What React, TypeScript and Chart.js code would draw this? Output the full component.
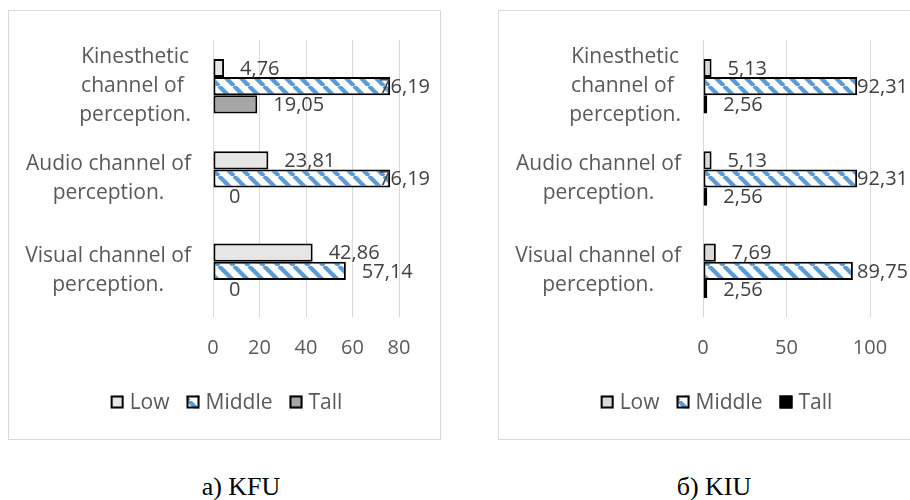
import React, { useEffect, useRef } from "react";
import { Chart, registerables } from "chart.js";

Chart.register(...registerables);

// ---- data ----
const categories: string[][] = [
  ["Kinesthetic", "channel of ", "perception."],
  ["Audio channel of", "perception."],
  ["Visual channel of", "perception."],
];
const seriesNames = ["Low", "Middle", "Tall"];

const kfuLow = [4.76, 23.81, 42.86];
const kfuMiddle = [76.19, 76.19, 57.14];
const kfuTall = [19.05, 0, 0];
const kfuAxisMax = 80;
const kfuAxisStep = 20;

const kiuLow = [5.13, 5.13, 7.69];
const kiuMiddle = [92.31, 92.31, 89.75];
const kiuTall = [2.56, 2.56, 2.56];
const kiuAxisMax = 100;
const kiuAxisStep = 50;

const captionKfu = "а) KFU";
const captionKiu = "б) KIU";

// ---- styling ----
const FONT = "'Open Sans', 'DejaVu Sans', sans-serif";
const AXIS_COLOR = "#595959";
const LABEL_COLOR = "#404040";
const GRID_COLOR = "#d9d9d9";
const BLUE = "#5b9bd5";

function makeHatch(): CanvasPattern | string {
  const s = 15;
  const c = document.createElement("canvas");
  c.width = s;
  c.height = s;
  const g = c.getContext("2d");
  if (!g) return BLUE;
  g.fillStyle = "#ffffff";
  g.fillRect(0, 0, s, s);
  g.strokeStyle = BLUE;
  g.lineWidth = 4.2;
  for (const o of [-s, 0, s]) {
    g.beginPath();
    g.moveTo(o, 0);
    g.lineTo(o + s, s);
    g.stroke();
  }
  const p = g.createPattern(c, "repeat");
  return p || BLUE;
}

function fmt(v: number): string {
  return String(v).replace(".", ",");
}

type Props = {
  low: number[];
  middle: number[];
  tall: number[];
  lowColor: string;
  tallColor: string;
  axisMax: number;
  axisStep: number;
  areaRight: number;
  clampRight: number;
};

const W = 431;
const H = 428;
const AREA_LEFT = 204;
const AREA_TOP = 29;
const AREA_BOTTOM = 306;

function BarPanel(props: Props) {
  const ref = useRef<HTMLCanvasElement | null>(null);
  useEffect(() => {
    const canvas = ref.current;
    if (!canvas) return;
    const hatch = makeHatch();
    const fills = [props.lowColor, hatch, props.tallColor];

    const overlay = {
      id: "overlay",
      afterDatasetsDraw(chart: any) {
        const ctx: CanvasRenderingContext2D = chart.ctx;
        ctx.save();
        // data labels
        ctx.font = `20px ${FONT}`;
        ctx.fillStyle = LABEL_COLOR;
        ctx.textAlign = "left";
        ctx.textBaseline = "middle";
        chart.data.datasets.forEach((ds: any, di: number) => {
          const meta = chart.getDatasetMeta(di);
          meta.data.forEach((el: any, i: number) => {
            const t = fmt(ds.data[i]);
            const w = ctx.measureText(t).width;
            const lx = Math.min(el.x + 16, props.clampRight - w);
            ctx.fillText(t, lx, el.y + 1);
          });
        });
        // category labels (block right-aligned, lines centered)
        const yScale = chart.scales.y;
        ctx.font = `21px ${FONT}`;
        ctx.fillStyle = AXIS_COLOR;
        ctx.textAlign = "center";
        const blockRight = 182;
        (chart.data.labels as string[][]).forEach((lines, i) => {
          const yc = yScale.getPixelForValue(i);
          const bw = Math.max(...lines.map((l) => ctx.measureText(l).width));
          const cx = blockRight - bw / 2;
          lines.forEach((l, j) => {
            ctx.fillText(l, cx, yc + (j - (lines.length - 1) / 2) * 29);
          });
        });
        // legend
        const ly = 391;
        const box = 13;
        const gapText = 6;
        const gapItem = 17;
        const widths = seriesNames.map((n) => ctx.measureText(n).width);
        let total = 0;
        widths.forEach((w, i) => {
          total += box + gapText + w + (i < widths.length - 1 ? gapItem : 0);
        });
        let x = W / 2 + 2 - total / 2;
        ctx.textAlign = "left";
        seriesNames.forEach((n, i) => {
          ctx.fillStyle = fills[i] as any;
          ctx.fillRect(x, ly - box / 2, box, box);
          ctx.strokeStyle = "#000";
          ctx.lineWidth = 2;
          ctx.strokeRect(x + 1, ly - box / 2 + 1, box - 2, box - 2);
          ctx.fillStyle = AXIS_COLOR;
          ctx.fillText(n, x + box + gapText, ly + 1);
          x += box + gapText + widths[i] + gapItem;
        });
        ctx.restore();
      },
    };

    const series = [props.low, props.middle, props.tall];
    const padding = { left: AREA_LEFT, right: W - props.areaRight, top: AREA_TOP, bottom: 79 };
    const chart = new Chart(canvas, {
      type: "bar",
      data: {
        labels: categories as any,
        datasets: seriesNames.map((name, i) => ({
          label: name,
          data: series[i],
          backgroundColor: fills[i] as any,
          borderColor: "#000000",
          borderWidth: 2,
          borderSkipped: false,
          categoryPercentage: 0.59,
          barPercentage: 1,
        })),
      },
      options: {
        indexAxis: "y",
        animation: false,
        responsive: false,
        maintainAspectRatio: false,
        events: [],
        layout: { padding },
        scales: {
          x: {
            min: 0,
            max: props.axisMax,
            ticks: {
              stepSize: props.axisStep,
              color: AXIS_COLOR,
              font: { family: FONT, size: 20 },
              padding: 19,
              maxRotation: 0,
            },
            grid: { color: GRID_COLOR, lineWidth: 1, drawTicks: false },
            border: { display: false },
          },
          y: {
            ticks: { display: false },
            grid: { display: false },
            border: { display: false },
          },
        },
        plugins: {
          legend: { display: false },
          tooltip: { enabled: false },
        },
      } as any,
      plugins: [overlay],
    });
    // nudge layout padding so the plot area lands where the reference has it
    for (let k = 0; k < 3; k++) {
      const a = chart.chartArea;
      padding.left += AREA_LEFT - a.left;
      padding.right += a.right - props.areaRight;
      padding.top += AREA_TOP - a.top;
      padding.bottom += a.bottom - AREA_BOTTOM;
      (chart.options as any).layout.padding = { ...padding };
      chart.update("none");
    }
    return () => chart.destroy();
  }, []);
  return <canvas ref={ref} width={W} height={H} style={{ display: "block", width: W, height: H }} />;
}

const boxStyle = (left: number): React.CSSProperties => ({
  position: "absolute",
  left,
  top: 10,
  width: 433,
  height: 430,
  border: "1px solid #d9d9d9",
  boxSizing: "border-box",
  background: "#fff",
});

const captionStyle = (center: number): React.CSSProperties => ({
  position: "absolute",
  left: center - 100,
  width: 200,
  top: 474,
  textAlign: "center",
  fontFamily: "'Liberation Serif', 'Times New Roman', serif",
  fontSize: 26,
  lineHeight: "26px",
  color: "#000",
  whiteSpace: "nowrap",
});

export default function App() {
  return (
    <div
      style={{
        position: "fixed",
        left: 0,
        top: 0,
        width: 910,
        height: 500,
        overflow: "hidden",
        background: "#fff",
      }}
    >
      <div style={boxStyle(8)}>
        <BarPanel
          low={kfuLow}
          middle={kfuMiddle}
          tall={kfuTall}
          lowColor="#e6e6e6"
          tallColor="#a6a6a6"
          axisMax={kfuAxisMax}
          axisStep={kfuAxisStep}
          areaRight={390}
          clampRight={421}
        />
      </div>
      <div style={boxStyle(498)}>
        <BarPanel
          low={kiuLow}
          middle={kiuMiddle}
          tall={kiuTall}
          lowColor="#d9d9d9"
          tallColor="#000000"
          axisMax={kiuAxisMax}
          axisStep={kiuAxisStep}
          areaRight={371}
          clampRight={409}
        />
      </div>
      <div style={captionStyle(241)}>{captionKfu}</div>
      <div style={captionStyle(714)}>{captionKiu}</div>
    </div>
  );
}
